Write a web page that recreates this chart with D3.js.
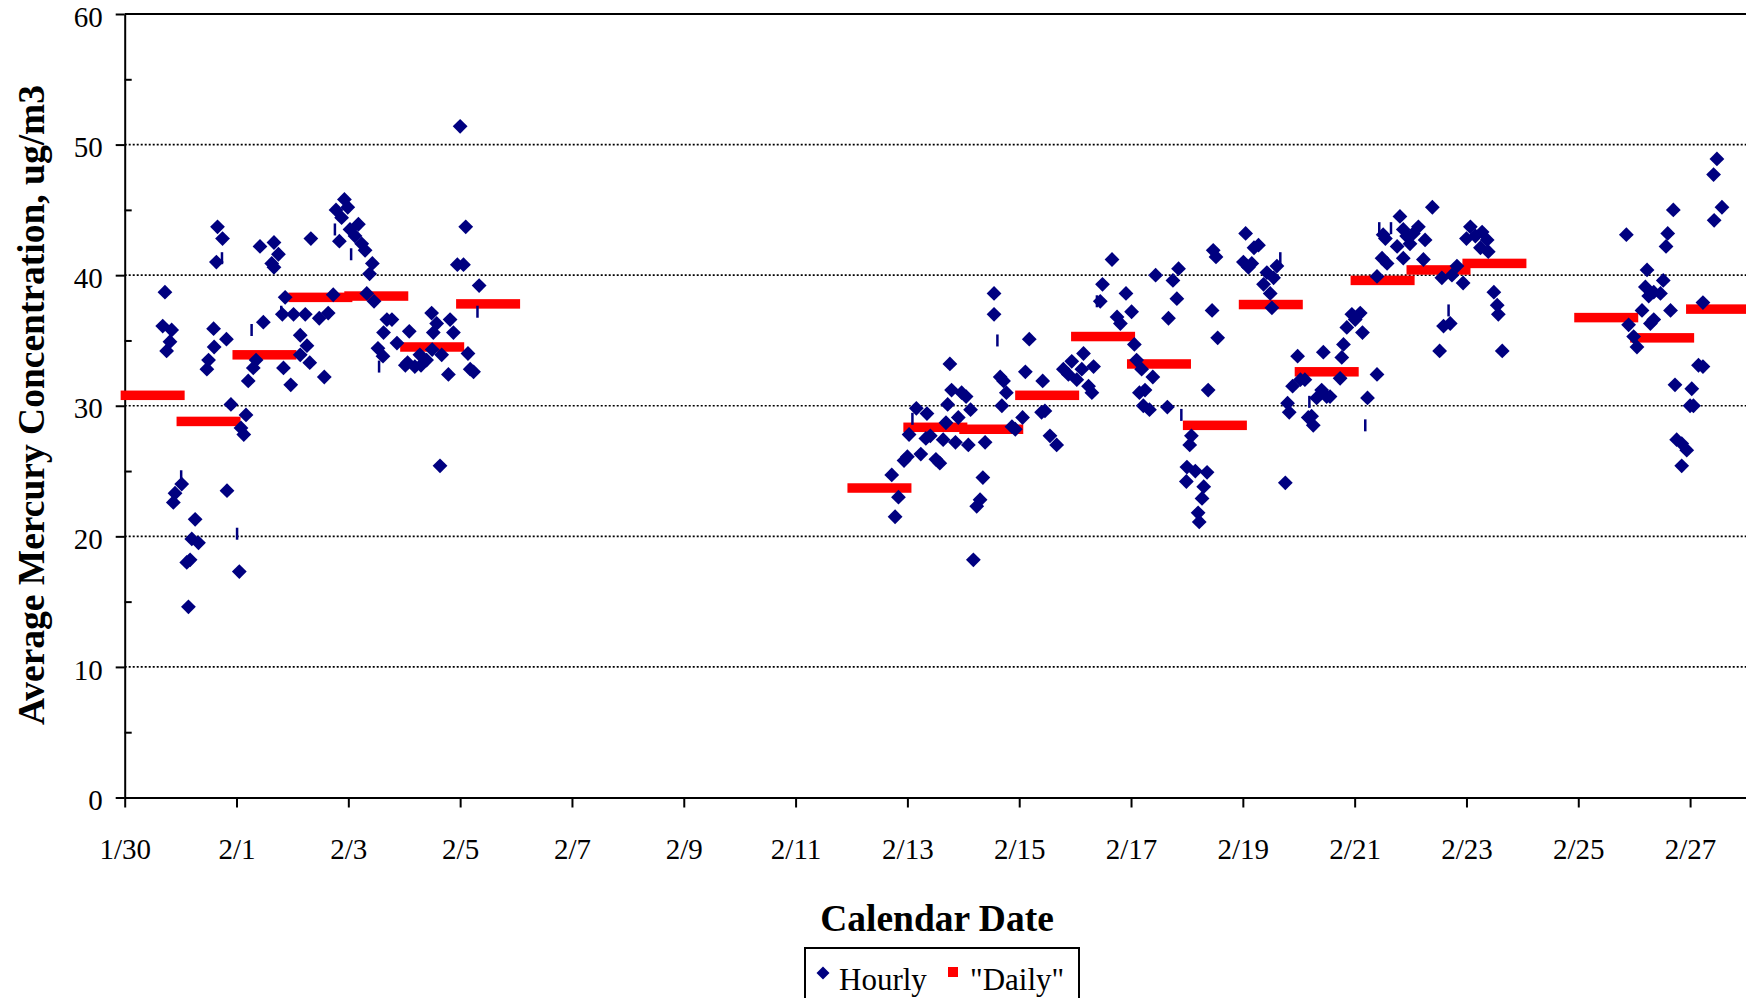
<!DOCTYPE html>
<html>
<head>
<meta charset="utf-8">
<script src="https://cdn.jsdelivr.net/npm/d3@7"></script>
<style>
  body { margin: 0; background: #fff; }
  svg { display: block; }
  text { font-family: "Liberation Serif", "Times New Roman", serif; fill: #000; }
</style>
</head>
<body>
<svg width="1746" height="998"></svg>
<script>
// x tick labels (every 2 days)
const tickLabels = ['1/30', '2/1', '2/3', '2/5', '2/7', '2/9', '2/11', '2/13',
    '2/15', '2/17', '2/19', '2/21', '2/23', '2/25', '2/27'];

// "Daily" averages
const dailyDates = ['1/30', '1/31', '2/1', '2/2', '2/3', '2/4', '2/5',
    '2/12', '2/13', '2/14', '2/15', '2/16', '2/17', '2/18', '2/19', '2/20',
    '2/21', '2/22', '2/23', '2/25', '2/26', '2/27'];
const dailyValues = [30.8, 28.8, 33.9, 38.3, 38.4, 34.5, 37.8,
    23.7, 28.35, 28.2, 30.8, 35.3, 33.2, 28.5, 37.75, 32.6,
    39.6, 40.4, 40.9, 36.75, 35.2, 37.4];

// hourly readings: [days since 1/30 00:00, ug/m3]
const hourlyFirstWeek = [
    [0.68, 36.1], [0.72, 38.7], [0.75, 34.2], [0.81, 34.9], [0.84, 35.8], [0.87, 22.6], [0.90, 23.3],
    [1.02, 24.0], [1.11, 18.0], [1.14, 14.6], [1.17, 18.2], [1.20, 19.8], [1.26, 21.3], [1.32, 19.5],
    [1.47, 32.8], [1.50, 33.5], [1.59, 35.9], [1.60, 34.5], [1.64, 41.0], [1.66, 43.7], [1.75, 42.8],
    [1.82, 35.1], [1.83, 23.5], [1.90, 30.1], [2.05, 17.3], [2.08, 28.3], [2.13, 27.8], [2.17, 29.3],
    [2.21, 31.9], [2.30, 32.9], [2.35, 33.5], [2.42, 42.2], [2.48, 36.4], [2.63, 40.9], [2.67, 42.5],
    [2.67, 40.6], [2.75, 41.6], [2.82, 37.0], [2.84, 32.9], [2.87, 38.3], [2.97, 31.6], [3.02, 37.0],
    [3.14, 35.4], [3.14, 33.9], [3.23, 37.0], [3.26, 34.6], [3.31, 33.3], [3.33, 42.8], [3.48, 36.7],
    [3.57, 32.2], [3.64, 37.1], [3.73, 38.5], [3.78, 45.0], [3.84, 42.6], [3.88, 44.4], [3.93, 45.8],
    [3.99, 45.2], [4.03, 43.5], [4.12, 43.0], [4.18, 43.9], [4.24, 42.4], [4.30, 41.9], [4.33, 38.6],
    [4.38, 40.1], [4.43, 40.9], [4.46, 38.0], [4.53, 34.4], [4.62, 33.8], [4.63, 35.6], [4.69, 36.6],
    [4.78, 36.6], [4.87, 34.8], [5.02, 33.1], [5.06, 33.3], [5.09, 35.7], [5.19, 33.0], [5.28, 33.9],
    [5.30, 33.1], [5.40, 33.5], [5.49, 37.1], [5.50, 34.3], [5.52, 35.6], [5.58, 36.3], [5.64, 25.4],
    [5.67, 33.9], [5.79, 32.4], [5.82, 36.6], [5.88, 35.6], [5.95, 40.8], [6.00, 51.4], [6.06, 40.8],
    [6.10, 43.7], [6.14, 34.0], [6.18, 32.8], [6.24, 32.6], [6.34, 39.2]
];
const hourlyMidFeb = [
    [13.72, 24.7], [13.78, 21.5], [13.84, 23.0], [13.94, 25.8], [14.00, 26.1], [14.03, 27.8], [14.16, 29.8],
    [14.24, 26.3], [14.33, 27.5], [14.35, 29.4], [14.41, 27.7], [14.51, 25.9], [14.58, 25.6], [14.64, 27.4],
    [14.69, 28.7], [14.72, 30.1], [14.76, 33.2], [14.79, 31.2], [14.86, 27.2], [14.91, 29.1], [14.97, 31.0],
    [15.05, 30.7], [15.09, 27.0], [15.13, 29.7], [15.18, 18.2], [15.24, 22.3], [15.30, 22.8], [15.35, 24.5],
    [15.39, 27.2], [15.55, 38.6], [15.55, 37.0], [15.66, 32.2], [15.69, 30.0], [15.72, 31.9], [15.77, 31.0],
    [15.87, 28.4], [15.93, 28.2], [16.06, 29.1], [16.11, 32.6], [16.18, 35.1], [16.40, 29.5], [16.42, 31.9],
    [16.46, 29.6], [16.55, 27.7], [16.67, 27.0], [16.79, 32.8], [16.88, 32.4], [16.94, 33.4], [17.03, 32.0],
    [17.12, 32.8], [17.15, 34.0], [17.24, 31.5], [17.30, 31.0], [17.33, 33.0], [17.45, 38.0], [17.49, 39.3],
    [17.66, 41.2], [17.75, 36.8], [17.81, 36.3], [17.91, 38.6], [18.01, 37.2], [18.06, 34.7], [18.10, 33.5],
    [18.15, 31.0], [18.19, 32.8], [18.22, 30.0], [18.25, 31.2], [18.33, 29.7], [18.39, 32.2], [18.44, 40.0],
    [18.65, 29.9], [18.67, 36.7], [18.75, 39.6], [18.82, 38.2], [18.85, 40.5], [18.99, 24.2], [19.00, 25.3],
    [19.05, 27.0], [19.08, 27.7], [19.15, 25.0], [19.20, 21.8], [19.22, 21.1], [19.27, 22.9], [19.30, 23.8],
    [19.36, 24.9], [19.38, 31.2], [19.45, 37.3], [19.47, 41.9], [19.52, 41.4], [19.55, 35.2], [20.01, 41.0],
    [20.05, 43.2], [20.10, 40.6], [20.16, 40.9], [20.20, 42.1], [20.28, 42.3], [20.37, 39.3], [20.43, 40.2],
    [20.49, 38.6], [20.52, 37.5], [20.55, 39.8], [20.61, 40.7], [20.76, 24.1], [20.80, 30.2], [20.83, 29.5],
    [20.89, 31.5], [20.98, 33.8], [21.03, 32.0], [21.17, 29.1]
];
const hourlyLateFeb = [
    [21.11, 32.0], [21.23, 29.2], [21.26, 28.5], [21.32, 30.6], [21.41, 31.2], [21.44, 34.1], [21.50, 30.7],
    [21.56, 30.7], [21.74, 32.1], [21.77, 33.7], [21.80, 34.7], [21.86, 36.0], [21.95, 37.0], [22.01, 36.6],
    [22.10, 37.1], [22.14, 35.6], [22.23, 30.6], [22.40, 32.4], [22.40, 39.9], [22.49, 41.3], [22.51, 43.1],
    [22.55, 42.8], [22.58, 40.9], [22.76, 42.2], [22.81, 44.5], [22.87, 43.5], [22.87, 41.3], [22.93, 43.0],
    [22.99, 42.4], [23.05, 43.2], [23.14, 43.7], [23.23, 41.2], [23.26, 42.7], [23.39, 45.2], [23.52, 34.2],
    [23.56, 39.8], [23.59, 36.1], [23.71, 36.3], [23.74, 40.0], [23.83, 40.7], [23.94, 39.4], [24.00, 42.8],
    [24.07, 43.7], [24.16, 43.0], [24.25, 42.1], [24.28, 43.3], [24.37, 42.7], [24.39, 41.8], [24.49, 38.7],
    [24.55, 37.7], [24.57, 37.0], [24.64, 34.2],
    [26.86, 43.1], [26.90, 36.2], [26.99, 35.3], [27.05, 34.5], [27.14, 37.3], [27.20, 39.1], [27.23, 40.4],
    [27.26, 38.4], [27.29, 36.3], [27.35, 38.7], [27.35, 36.6], [27.47, 38.6], [27.52, 39.6], [27.57, 42.2],
    [27.60, 43.2], [27.65, 37.3], [27.70, 45.0], [27.73, 31.6], [27.76, 27.4], [27.85, 27.1], [27.85, 25.4],
    [27.94, 26.6], [28.00, 30.0], [28.03, 31.3], [28.06, 30.0], [28.15, 33.1], [28.23, 33.0], [28.23, 37.9],
    [28.42, 47.7], [28.43, 44.2], [28.48, 48.9], [28.57, 45.2]
];
// hourly readings drawn as clipped markers (short dashes)
const hourlyClipped = [
    [1.01, 24.6], [1.74, 41.3], [2.01, 20.2], [2.27, 35.8], [2.80, 37.2], [3.76, 43.5], [4.05, 41.6],
    [4.55, 33.0], [6.31, 37.2], [14.09, 29.0], [15.61, 35.0], [17.39, 38.0], [18.90, 29.3], [20.67, 41.3],
    [21.19, 30.3], [22.19, 28.5], [22.44, 43.6], [22.65, 43.6], [23.68, 37.3], [27.20, 38.8]
];

const svg = d3.select('svg');
const width = +svg.attr('width');

const start = new Date(2001, 0, 30);
const atDay = d => new Date(start.getTime() + d * 864e5);
const parseMD = s => {
    const [m, d] = s.split('/').map(Number);
    return new Date(2001, m - 1, d);
};

const plotLeft = 124.7, plotTop = 14, plotBottom = 797.5;

const xScale = d3.scaleTime()
    .domain([start, new Date(2001, 1, 28)])
    .range([plotLeft, width]);
const yScale = d3.scaleLinear()
    .domain([0, 60])
    .range([plotBottom, plotTop]);

// gridlines
svg.append('g')
    .selectAll('line')
    .data([10, 20, 30, 40, 50])
    .enter().append('line')
        .attr('x1', plotLeft).attr('x2', width)
        .attr('y1', d => yScale(d)).attr('y2', d => yScale(d))
        .attr('stroke', '#000')
        .attr('stroke-width', 1.7)
        .attr('stroke-dasharray', '2,2');

// top frame
svg.append('line')
    .attr('x1', plotLeft).attr('x2', width)
    .attr('y1', yScale(60)).attr('y2', yScale(60))
    .attr('stroke', '#000').attr('stroke-width', 2);

const styleAxis = g => {
    g.attr('font-family', null).attr('font-size', null);
    g.selectAll('path, line').attr('stroke', '#000').attr('stroke-width', 2);
    g.selectAll('text').attr('font-size', 29).attr('fill', '#000');
};

const yAxisG = svg.append('g')
    .attr('transform', `translate(${plotLeft},0)`)
    .call(d3.axisLeft(yScale).tickValues(d3.range(0, 61, 10)).tickSize(9).tickSizeOuter(0).tickPadding(13))
    .call(styleAxis);
yAxisG.selectAll('text').attr('dy', '0.42em');

svg.append('g')
    .attr('transform', `translate(${plotLeft},0)`)
    .call(d3.axisRight(yScale).tickValues(d3.range(5, 60, 10)).tickSize(7).tickFormat(''))
    .call(styleAxis)
    .select('.domain').remove();

const tickDates = tickLabels.map(parseMD);
svg.append('g')
    .attr('transform', `translate(0,${plotBottom})`)
    .call(d3.axisBottom(xScale).tickValues(tickDates).tickSize(10).tickSizeOuter(0).tickPadding(31)
        .tickFormat((d, i) => tickLabels[i]))
    .call(styleAxis);

// daily bars
const daily = dailyDates.map((s, i) => ({ date: d3.timeHour.offset(parseMD(s), 12), value: dailyValues[i] }));
svg.append('g')
    .selectAll('rect')
    .data(daily)
    .enter().append('rect')
        .attr('x', d => xScale(d.date) - 32)
        .attr('y', d => yScale(d.value) - 4.75)
        .attr('width', 64)
        .attr('height', 9.5)
        .attr('fill', '#ff0000');

// hourly diamonds
const diamond = 'M0,-7.4L7.4,0L0,7.4L-7.4,0Z';
const hourly = hourlyFirstWeek.concat(hourlyMidFeb, hourlyLateFeb);
svg.append('g')
    .selectAll('path')
    .data(hourly)
    .enter().append('path')
        .attr('d', diamond)
        .attr('transform', d => `translate(${xScale(atDay(d[0]))},${yScale(d[1])})`)
        .attr('fill', '#000080');

svg.append('g')
    .selectAll('line')
    .data(hourlyClipped)
    .enter().append('line')
        .attr('x1', d => xScale(atDay(d[0]))).attr('x2', d => xScale(atDay(d[0])))
        .attr('y1', d => yScale(d[1]) - 6).attr('y2', d => yScale(d[1]) + 6)
        .attr('stroke', '#000080')
        .attr('stroke-width', 2.5);

// titles
svg.append('text')
    .text('Average Mercury Concentration, ug/m3')
    .attr('transform', 'translate(44,405) rotate(-90)')
    .attr('text-anchor', 'middle')
    .attr('font-size', 37.5)
    .attr('font-weight', 'bold');

svg.append('text')
    .text('Calendar Date')
    .attr('x', 937).attr('y', 931)
    .attr('text-anchor', 'middle')
    .attr('font-size', 37.5)
    .attr('font-weight', 'bold');

// legend
const legend = svg.append('g');
legend.append('rect')
    .attr('x', 805).attr('y', 948)
    .attr('width', 274).attr('height', 70)
    .attr('fill', '#fff')
    .attr('stroke', '#000').attr('stroke-width', 2);
legend.append('path')
    .attr('d', 'M0,-6.5L6.5,0L0,6.5L-6.5,0Z')
    .attr('transform', 'translate(823,973)')
    .attr('fill', '#000080');
legend.append('text').text('Hourly')
    .attr('x', 839).attr('y', 990).attr('font-size', 31);
legend.append('rect')
    .attr('x', 948).attr('y', 967)
    .attr('width', 10).attr('height', 10)
    .attr('fill', '#ff0000');
legend.append('text').text('"Daily"')
    .attr('x', 970).attr('y', 990).attr('font-size', 31);
</script>
</body>
</html>
